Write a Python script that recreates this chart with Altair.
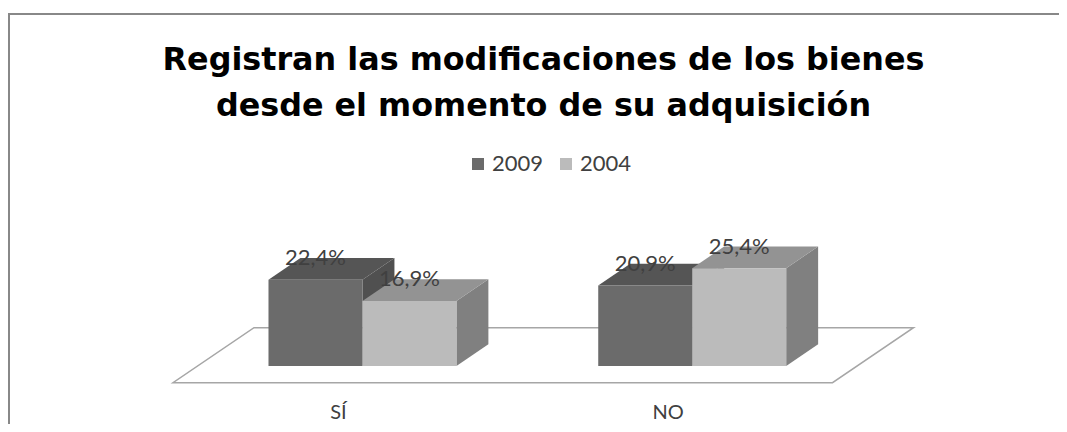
import altair as alt
import pandas as pd

# ---------------- data ----------------
CATEGORIAS = ["SÍ", "NO"]
SERIES = ["2009", "2004"]
VALORES_2009 = [22.4, 20.9]
VALORES_2004 = [16.9, 25.4]
TITULO = ["Registran las modificaciones de los bienes",
          "desde el momento de su adquisición"]

# ---------------- style ----------------
FRONT_COLORS = ["#6b6b6b", "#bbbbbb"]
TOP_COLORS = ["#555555", "#939393"]
SIDE_COLORS = ["#505050", "#808080"]
FONT = "Lato"
TITLE_FONT = "DejaVu Sans"

# ---------------- geometry (scales) ----------------
W, H = 1051, 416
PX_PER_CAT = 329.75      # pixels per category unit on x
PX_PER_PCT = 3.85        # pixels per percent on y
X_ORIGIN = 165.0         # plot-x of the floor's front-left corner
Y_ORIGIN = 374.7         # plot-y of the floor's front edge
XDOM = [-X_ORIGIN / PX_PER_CAT, (W - X_ORIGIN) / PX_PER_CAT]
YDOM = [-(H - Y_ORIGIN) / PX_PER_PCT, Y_ORIGIN / PX_PER_PCT]
DEPTH_X = 81 / PX_PER_CAT    # full floor depth, in x units
DEPTH_Y = 55 / PX_PER_PCT    # full floor depth, in y units
D_FRONT, D_BACK = 0.3036, 0.698
BAR_W = 0.285

valores = {"2009": VALORES_2009, "2004": VALORES_2004}

front_rows, top_rows, side_rows, label_rows = [], [], [], []
sx = (D_BACK - D_FRONT) * DEPTH_X
sy = (D_BACK - D_FRONT) * DEPTH_Y
for i, cat in enumerate(CATEGORIAS):
    for j, serie in enumerate(SERIES):
        v = valores[serie][i]
        bar = f"{cat}-{serie}"
        left = i + 0.5 - BAR_W + j * BAR_W + D_FRONT * DEPTH_X
        right = left + BAR_W
        base = D_FRONT * DEPTH_Y
        top = v + base
        front_rows.append(dict(barra=bar, serie=serie, x=left, x2=right, y=base, y2=top))
        for (xx, ya, yb) in [(left, top, top), (left + sx, top, top + sy),
                             (right, top, top + sy), (right + sx, top + sy, top + sy)]:
            top_rows.append(dict(barra=bar, serie=serie, x=xx, y=ya, y2=yb))
        for (xx, ya, yb) in [(right, base, top), (right + sx, base + sy, top + sy)]:
            side_rows.append(dict(barra=bar, serie=serie, x=xx, y=ya, y2=yb))
        label_rows.append(dict(serie=serie, x=(left + right) / 2,
                               y=v + D_BACK * DEPTH_Y,
                               texto=f"{v:.1f}".replace(".", ",") + "%"))

n = len(CATEGORIAS)
floor_rows = [dict(x=0.0, y=0.0, y2=0.0), dict(x=DEPTH_X, y=0.0, y2=DEPTH_Y),
              dict(x=float(n), y=0.0, y2=DEPTH_Y), dict(x=n + DEPTH_X, y=DEPTH_Y, y2=DEPTH_Y)]

df_front = pd.DataFrame(front_rows)
df_top = pd.DataFrame(top_rows)
df_side = pd.DataFrame(side_rows)
df_label = pd.DataFrame(label_rows)
df_floor = pd.DataFrame(floor_rows)

cat_js = "[" + ",".join("'" + c + "'" for c in CATEGORIAS) + "]"
X_ENC = alt.X("x:Q", scale=alt.Scale(domain=XDOM, nice=False, zero=False),
              axis=alt.Axis(values=[i + 0.5 for i in range(n)],
                            labelExpr=f"{cat_js}[floor(datum.value)]",
                            domain=False, ticks=False, grid=False, labelPadding=0,
                            labelBaseline="middle", offset=-12, labelFont=FONT,
                            labelFontSize=20, labelColor="#404040", title=None,
                            labelFlush=False, labelOverlap=False))
Y_ENC = alt.Y("y:Q", scale=alt.Scale(domain=YDOM, nice=False, zero=False), axis=None)

floor = alt.Chart(df_floor).mark_area(fill="white", stroke="#a6a6a6", strokeWidth=1.5).encode(
    x=X_ENC, y=Y_ENC, y2="y2:Q")

sides = alt.Chart(df_side).mark_area().encode(
    x=X_ENC, y=Y_ENC, y2="y2:Q", detail="barra:N",
    color=alt.Color("serie:N", scale=alt.Scale(domain=SERIES, range=SIDE_COLORS), legend=None))

tops = alt.Chart(df_top).mark_area().encode(
    x=X_ENC, y=Y_ENC, y2="y2:Q", detail="barra:N",
    color=alt.Color("serie:N", scale=alt.Scale(domain=SERIES, range=TOP_COLORS), legend=None))

fronts = alt.Chart(df_front).mark_bar().encode(
    x=X_ENC, x2="x2:Q", y=Y_ENC, y2="y2:Q",
    color=alt.Color("serie:N", scale=alt.Scale(domain=SERIES, range=FRONT_COLORS),
                    legend=alt.Legend(orient="none", legendX=459, legendY=145,
                                      direction="horizontal", title=None,
                                      symbolType="square", symbolSize=144,
                                      symbolStrokeWidth=0, labelFont=FONT,
                                      labelFontSize=22, labelColor="#404040",
                                      labelOffset=3, columnPadding=11, padding=0)))

labels = alt.Chart(df_label).mark_text(font=FONT, fontSize=22, color="#404040",
                                       align="center", baseline="middle").encode(
    x=X_ENC, y=Y_ENC, text="texto:N")

one = pd.DataFrame({"k": [0]})
border_top = alt.Chart(one).mark_rule(stroke="#888888", strokeWidth=2).encode(
    x=alt.value(0), x2=alt.value(1300), y=alt.value(6))
border_left = alt.Chart(one).mark_rule(stroke="#888888", strokeWidth=2).encode(
    x=alt.value(1), y=alt.value(5), y2=alt.value(700))

title = alt.Chart(one).mark_text(text=TITULO, font=TITLE_FONT, fontSize=31.8, fontWeight="bold",
                                 color="black", align="center", baseline="alphabetic",
                                 lineHeight=45.5).encode(x=alt.value(535.5), y=alt.value(62))

chart = alt.layer(border_top, border_left, title, floor, sides, tops, fronts, labels).resolve_scale(
    color="independent").properties(
    width=W, height=H, padding=0, autosize="none", background="white"
).configure_view(strokeWidth=0)

chart.save("out.html", embed_options={"renderer": "svg", "actions": False})
